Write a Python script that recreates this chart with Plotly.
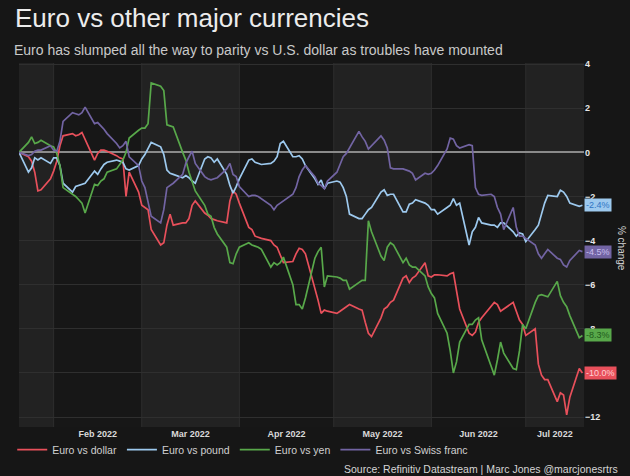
import pandas as pd
import plotly.graph_objects as go

# business days, 21 Jan 2022 - 19 Jul 2022
dates = pd.bdate_range("2022-01-21", "2022-07-19")

# % change since start, one row per week
dollar = [
    0,
    -0.2, -0.4, -0.9, -1.75, -1.7,
    -1.2, -0.85, -0.4, 0.3, 0.75,
    0.85, 0.75, 0.8, 0.9, 0.6,
    -0.35, -0.05, 0.1, 0.1, 0.05,
    -0.15, -0.25, -0.3, -2.0, -0.9,
    -1.8, -2.4, -2.5, -2.6, -3.5,
    -4.2, -4.1, -3.3, -2.8, -3.3,
    -3.2, -3.2, -3.0, -2.4, -2.2,
    -2.75, -2.85, -3.0, -3.05, -3.1,
    -3.2, -2.2, -1.75, -1.9, -2.3,
    -3.4, -3.5, -3.8, -3.85, -3.9,
    -4.0, -4.2, -4.3, -4.7, -5.0,
    -4.95, -4.6, -4.35, -4.4, -4.6,
    -6.1, -6.7, -7.3, -7.15, -7.2,
    -7.3, -7.2, -7.1, -7.0, -6.9,
    -7.1, -7.15, -7.7, -8.2, -8.35,
    -7.5, -7.1, -7.0, -6.8, -6.7,
    -5.7, -5.6, -5.9, -5.7, -5.6,
    -5.0, -5.6, -5.65, -5.55, -5.55,
    -5.6, -5.5, -5.45, -6.2, -7.1,
    -8.2, -8.3, -8.15, -7.7, -7.5,
    -7.0, -6.8, -6.9, -7.2, -7.1,
    -6.8, -7.2, -7.6, -7.8, -8.3,
    -8.0, -9.6, -10.1, -10.3, -10.3,
    -11.3, -10.9, -11.0, -11.9, -11.1,
    -9.8, -10.0,
]
pound = [
    0,
    -0.9, -0.7, -0.25, -0.35, -0.25,
    -0.5, -0.25, -0.25, -0.6, -1.4,
    -1.8, -1.55, -1.5, -1.45, -1.4,
    -0.85, -1.0, -0.75, -0.55, -0.45,
    -0.35, -0.4, -0.45, -0.75, -0.8,
    -0.6, -0.3, -0.1, 0.2, 0.45,
    0.25, -0.1, -0.8, -0.95, -1.0,
    -1.15, -1.05, -1.15, -1.3, -1.4,
    -0.3, -0.2, -0.25, -0.45, -0.3,
    -1.0, -1.5, -1.85, -1.55, -1.2,
    -0.35, -0.3, -0.45, -0.5, -0.55,
    -0.5, -0.4, -0.2, 0.4, 0.5,
    -0.2, -0.2, -0.15, -0.3, -0.6,
    -1.2, -1.45, -1.25, -1.65, -1.4,
    -1.3, -1.35, -1.6, -2.0, -2.8,
    -3.0, -3.0, -2.8, -2.6, -2.5,
    -1.8, -1.7, -1.95, -1.9, -1.9,
    -2.7, -2.7, -2.35, -2.3, -2.15,
    -2.3, -2.4, -2.6, -2.6, -2.8,
    -2.5, -2.4, -2.1, -2.4, -2.3,
    -4.2, -3.6, -3.4, -2.95, -3.2,
    -3.3, -3.3, -3.4, -3.2, -3.2,
    -3.6, -3.8, -3.65, -3.7, -4.05,
    -3.5, -3.3, -2.8, -2.3, -1.95,
    -2.0, -1.72, -1.8, -2.0, -2.3,
    -2.45, -2.4,
]
yen = [
    0,
    0.45, 0.7, 0.4, 0.45, 0.55,
    0.3, 0.25, -0.05, -0.6, -1.6,
    -1.9, -2.0, -2.15, -2.3, -2.75,
    -1.45, -1.5, -1.3, -1.2, -0.9,
    -0.75, -0.55, -0.35, 0.0, 0.65,
    1.0, 1.1, 1.1, 1.3, 3.15,
    3.0, 2.8, 1.25, 1.2, 1.15,
    0.0, -0.35, -0.9, -1.3, -1.75,
    -2.4, -2.8, -2.9, -3.4, -3.7,
    -4.3, -5.0, -5.05, -4.6, -4.3,
    -4.1, -4.2, -4.25, -4.3, -4.4,
    -5.2, -5.0, -5.1, -5.0, -4.75,
    -6.0, -6.9, -6.9, -7.1, -6.6,
    -4.8, -4.5, -4.3, -6.1, -5.6,
    -5.65, -5.7, -5.8, -5.8, -6.2,
    -5.9, -5.8, -5.8, -3.1, -3.6,
    -4.7, -4.9, -4.3, -4.1, -4.2,
    -5.0, -4.8, -5.1, -5.2, -5.2,
    -5.6, -6.1, -6.4, -6.6, -7.3,
    -8.2, -9.0, -10.0, -9.5, -8.6,
    -7.8, -7.8, -7.6, -7.5, -8.5,
    -9.7, -10.1, -9.4, -8.6, -9.1,
    -9.8, -9.85, -9.0, -7.8, -8.0,
    -6.8, -6.5, -6.45, -6.5, -6.55,
    -5.85, -6.5, -6.8, -7.0, -7.4,
    -8.4, -8.3,
]
franc = [
    0,
    -0.15, -0.1, 0.05, 0.1, 0.1,
    0.3, 0.1, 0.05, 0.5, 1.4,
    1.8, 1.75, 1.7, 1.8, 2.05,
    1.3, 1.35, 1.2, 1.05, 0.85,
    0.4, 0.2, 0.3, 0.5, -0.2,
    -0.6, -1.3, -1.6, -2.2, -2.9,
    -3.2, -2.6, -1.6, -1.5, -1.4,
    -1.0, -0.5, -0.2, 0.05, -0.5,
    -1.1, -1.2, -1.25, -1.2, -1.15,
    -0.75, -0.5, -1.0, -1.1, -1.55,
    -2.0, -1.95, -1.95, -2.0, -2.1,
    -2.4, -2.6, -2.4, -2.3, -2.2,
    -1.9, -1.6, -1.1, -0.8, -0.6,
    -1.1, -1.4, -1.5, -1.65, -1.3,
    -0.9, -0.55, -0.2, -0.05, 0.2,
    0.95, 0.7, 0.5, 0.15, 0.3,
    0.75, 0.55, 0.2, -0.7, -0.75,
    -0.75, -0.8, -0.85, -0.95, -1.25,
    -0.95, -1.0, -0.95, -0.8, -0.6,
    0.15, 0.65, 0.6, 0.3, 0.2,
    0.35, 0.3, -1.6, -1.9, -1.95,
    -1.9, -2.0, -2.5, -2.8, -3.5,
    -2.5, -3.4, -3.8, -3.8, -3.9,
    -4.2, -4.6, -4.8, -4.6, -4.4,
    -4.8, -4.85, -5.1, -5.2, -4.9,
    -4.45, -4.5,
]

names = ["Euro vs dollar", "Euro vs pound", "Euro vs yen", "Euro vs Swiss franc"]
values = [dollar, pound, yen, franc]
colors = ["#e8505b", "#9dc9ee", "#58a84a", "#7264a3"]
label_text = ["#ffd0d3", "#2f74c4", "#1f5a1c", "#c9bff0"]

font = "Arial, Liberation Sans, sans-serif"
fig = go.Figure()
for name, vals, col in zip(names, values, colors):
    fig.add_trace(go.Scatter(x=dates, y=vals, name=name, mode="lines",
                             line=dict(color=col, width=1.7)))

# end-of-line value boxes
for vals, col, tc in zip(values, colors, label_text):
    fig.add_annotation(x=dates[-1], y=vals[-1], text=f"{vals[-1]:.1f}%",
                       xanchor="left", yanchor="middle", xshift=2, showarrow=False,
                       bgcolor=col, borderpad=1,
                       font=dict(family=font, size=9, color=tc))

# month bands and month gridlines
end = dates[-1] + pd.Timedelta(hours=12)
starts = list(pd.date_range(dates[0], dates[-1], freq="MS"))
edges = [dates[0]] + starts + [end]
for i in range(len(edges) - 1):
    if i % 2 == 0:
        fig.add_shape(type="rect", xref="x", yref="paper", x0=edges[i], x1=edges[i + 1],
                      y0=0, y1=1, fillcolor="#222222", line_width=0, layer="below")
for s in starts:
    fig.add_shape(type="line", xref="x", yref="paper", x0=s, x1=s, y0=0, y1=1,
                  line=dict(color="#2e2e2e", width=1), layer="below")
mids = [edges[i] + (edges[i + 1] - edges[i]) / 2 for i in range(1, len(edges) - 1)]
month_labels = [m.strftime("%b %Y") for m in starts]

fig.add_annotation(text="Euro vs other major currencies", xref="paper", yref="paper",
                   x=-0.011, y=1.123, xanchor="left", yanchor="middle", showarrow=False,
                   font=dict(family=font, size=26, color="#ececec"))
fig.add_annotation(text="Euro has slumped all the way to parity vs U.S. dollar as troubles have mounted",
                   xref="paper", yref="paper", x=-0.013, y=1.037, xanchor="left", yanchor="middle",
                   showarrow=False, font=dict(family=font, size=14, color="#c9c9c9"))
fig.add_annotation(text="% change", xref="paper", yref="paper", x=1.08, y=0.49,
                   textangle=90, showarrow=False, font=dict(family=font, size=10, color="#d5d5d5"))
fig.add_annotation(text="Source: Refinitiv Datastream | Marc Jones @marcjonesrtrs",
                   xref="paper", yref="paper", x=1.063, y=-0.115, xanchor="right", yanchor="middle",
                   showarrow=False, font=dict(family=font, size=10.5, color="#d5d5d5"))

fig.update_layout(
    width=630, height=476,
    margin=dict(l=15, r=46, t=63, b=48),
    paper_bgcolor="#161616", plot_bgcolor="#171717",
    font=dict(family=font, color="#d5d5d5"),
    showlegend=True,
    legend=dict(orientation="h", x=-0.012, y=-0.062, xanchor="left", yanchor="middle",
                font=dict(size=10.5, color="#d0d0d0"), bgcolor="rgba(0,0,0,0)"),
    xaxis=dict(type="date", range=[dates[0], end], tickvals=mids, ticktext=month_labels,
               showgrid=False, zeroline=False, ticks="", showline=False,
               tickfont=dict(size=9, color="#dadada", weight="bold")),
    yaxis=dict(side="right", range=[-12.45, 4.05], dtick=2, showgrid=True, gridcolor="#2f2f2f",
               zeroline=True, zerolinecolor="#8a8a8a", zerolinewidth=2, ticks="",
               showline=False, tickfont=dict(size=9, color="#e6e6e6", weight="bold")),
)

# drop the page's default body margin so the figure sits at the window's corner
fig.write_html("out.html", config={"displayModeBar": False},
               post_script="document.body.style.margin='0';")
